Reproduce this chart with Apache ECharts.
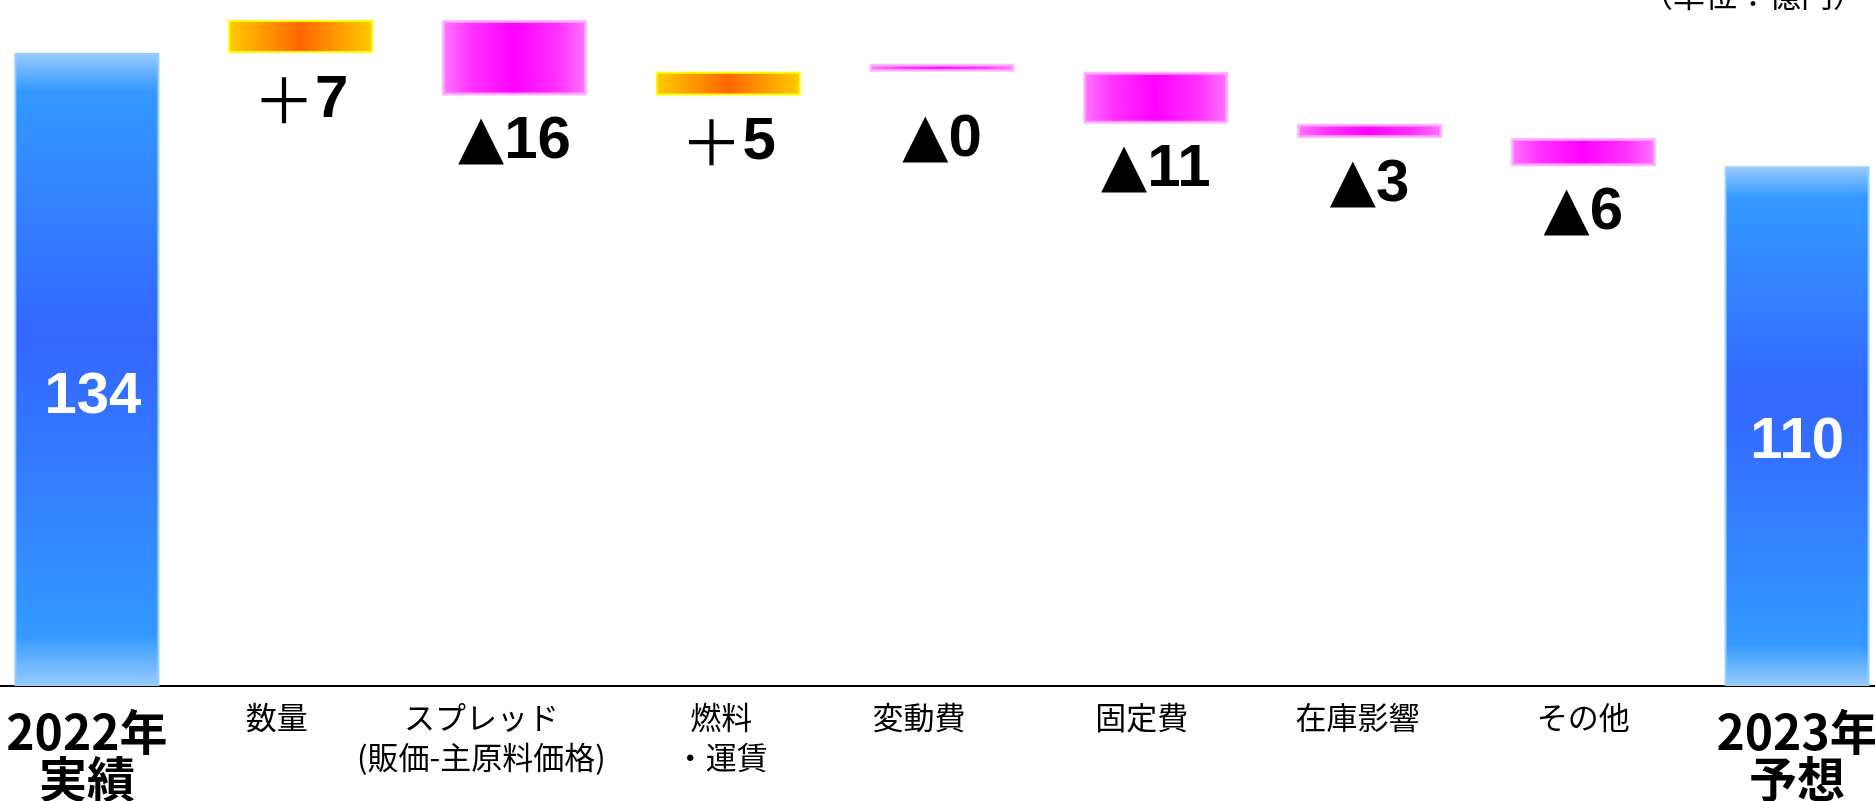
<!DOCTYPE html>
<html>
<head>
<meta charset="utf-8">
<script src="https://cdn.jsdelivr.net/npm/echarts@6/dist/echarts.min.js"></script>
<style>
  html, body { margin: 0; padding: 0; background: #fff; }
  #chart { width: 1875px; height: 801px; }
</style>
</head>
<body>
<div id="chart"></div>
<script>
// 営業利益の増減要因（単位：億円）
const categories = ['2022年\n実績', '数量', 'スプレッド\n(販価-主原料価格)', '燃料\n・運賃', '変動費', '固定費', '在庫影響', 'その他', '2023年\n予想']
const startTotal = 134
const endTotal = 110
const deltas = [7, -16, 5, 0, -11, -3, -6]

// 項目名の左右のずれ（px、見た目合わせ）
const labelShift = [0, -24, -33, -7, -23, -14, -12, 0, 0]

// 滝グラフ用に下駄と増減を組み立てる
const baseData = [0]
const upData = ['-']
const downData = ['-']
const totalData = [startTotal]
let level = startTotal
deltas.forEach((d) => {
  const next = level + d
  baseData.push(Math.min(level, next))
  if (d > 0) {
    upData.push(d)
    downData.push('-')
  } else if (d === 0) {
    upData.push('-')
    downData.push({ value: 0, label: { distance: 38 } })
  } else {
    upData.push('-')
    downData.push(-d)
  }
  totalData.push('-')
  level = next
})
baseData.push(0)
upData.push('-')
downData.push('-')
totalData.push(endTotal)

const chart = echarts.init(document.getElementById('chart'))

const deltaLabel = {
  show: true,
  position: 'bottom',
  distance: 16,
  formatter: (p) => {
    const d = deltas[p.dataIndex - 1]
    return (d > 0 ? '{p|＋}' : '{t|▲}') + '{n|' + Math.abs(d) + '}'
  },
  rich: {
    p: { fontFamily: 'Noto Sans CJK JP', fontSize: 62, fontWeight: 'normal', color: '#000' },
    t: { fontFamily: 'DejaVu Sans', fontSize: 60, color: '#000' },
    n: { fontFamily: 'Liberation Sans', fontSize: 60, fontWeight: 'bold', color: '#000' }
  }
}

chart.setOption({
  animation: false,
  title: {
    text: '（単位：億円）',
    right: 5,
    top: -26,
    textStyle: { fontFamily: 'Noto Sans CJK JP', fontSize: 32, fontWeight: 'normal', color: '#000' }
  },
  grid: { left: -20, right: -29, top: 1, bottom: 115, containLabel: false, outerBoundsMode: 'none' },
  xAxis: {
    type: 'category',
    data: categories.map((c, i) => {
      if (i === 0 || i === categories.length - 1) {
        return { value: c, textStyle: { fontSize: 48, fontWeight: 'bold', lineHeight: 47, padding: [11, 0, 0, 0] } }
      }
      const s = labelShift[i]
      return { value: c, textStyle: { padding: s < 0 ? [0, -2 * s, 0, 0] : [0, 0, 0, 2 * s] } }
    }),
    axisLine: { lineStyle: { color: '#000', width: 2 } },
    axisTick: { show: false },
    axisLabel: {
      interval: 0,
      margin: 11,
      color: '#000',
      fontFamily: 'Noto Sans CJK JP',
      fontSize: 31,
      lineHeight: 40
    }
  },
  yAxis: { type: 'value', min: 0, max: 145, show: false },
  series: [
    {
      name: 'base',
      type: 'bar',
      stack: 'w',
      barWidth: 145,
      itemStyle: { color: 'transparent' },
      data: baseData
    },
    {
      name: 'up',
      type: 'bar',
      stack: 'w',
      itemStyle: {
        color: {
          type: 'linear', x: 0, y: 0, x2: 1, y2: 0,
          colorStops: [
            { offset: 0, color: '#ffcc00' },
            { offset: 0.5, color: '#ff6600' },
            { offset: 1, color: '#ffcc00' }
          ]
        },
        borderColor: '#ffff00',
        borderWidth: 2
      },
      label: deltaLabel,
      data: upData
    },
    {
      name: 'down',
      type: 'bar',
      stack: 'w',
      barMinHeight: 8,
      itemStyle: {
        color: {
          type: 'linear', x: 0, y: 0, x2: 1, y2: 0,
          colorStops: [
            { offset: 0, color: '#ff77ff' },
            { offset: 0.2, color: '#ff33ff' },
            { offset: 0.5, color: '#ff00ff' },
            { offset: 0.8, color: '#ff33ff' },
            { offset: 1, color: '#ff77ff' }
          ]
        },
        borderColor: 'rgba(255, 170, 255, 0.8)',
        borderWidth: 3
      },
      label: deltaLabel,
      data: downData
    },
    {
      name: 'total',
      type: 'bar',
      stack: 'w',
      itemStyle: {
        color: {
          type: 'linear', x: 0, y: 0, x2: 0, y2: 1,
          colorStops: [
            { offset: 0, color: '#99ccff' },
            { offset: 0.06, color: '#3399ff' },
            { offset: 0.45, color: '#3366ff' },
            { offset: 0.92, color: '#3399ff' },
            { offset: 1, color: '#99ccff' }
          ]
        },
        borderColor: '#99ccff',
        borderWidth: 2
      },
      label: {
        show: true,
        position: 'inside',
        color: '#fff',
        fontFamily: 'Liberation Sans',
        fontSize: 58,
        fontWeight: 'bold'
      },
      data: totalData.map((v, i) => (i === 0 ? { value: v, label: { offset: [6, 28] } } : i === totalData.length - 1 ? { value: v, label: { offset: [0, 16] } } : v))
    }
  ]
})
</script>
</body>
</html>
